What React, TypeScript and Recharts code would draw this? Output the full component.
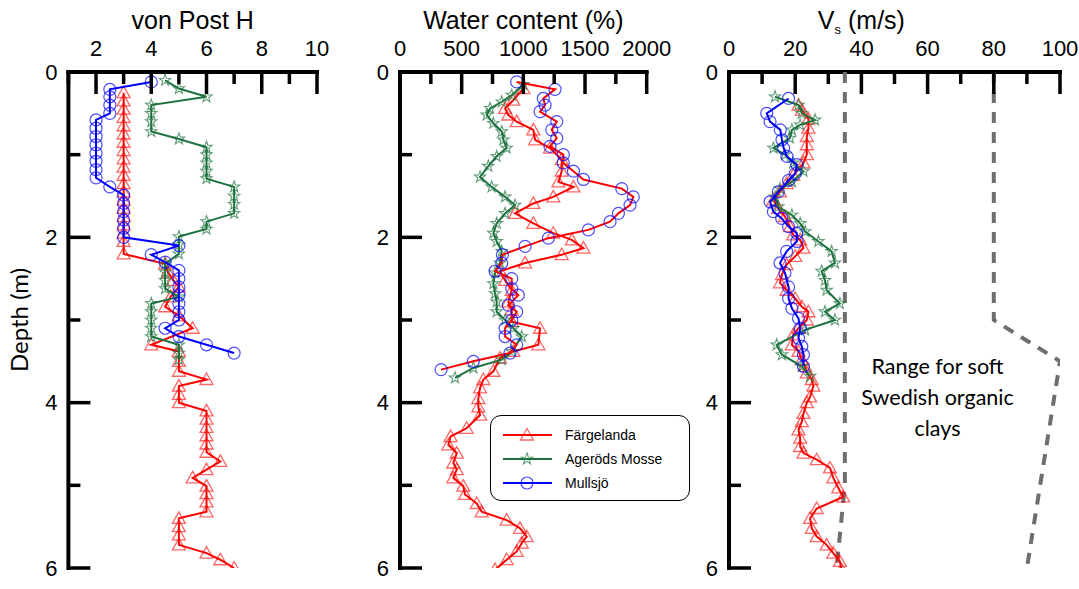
import React from "react";
import { ScatterChart, Scatter, XAxis, YAxis, Legend, ReferenceDot } from "recharts";

const RED = "#ff0000";
const GREEN = "#1e7340";
const BLUE = "#0000ff";
const GREY = "#6e6e6e";
const NARROW = "'Liberation Sans Narrow', 'Arial Narrow', 'Liberation Sans', Arial, sans-serif";
const CALIBRI = "Lato, 'Open Sans', sans-serif";

const siteNames = ["Färgelanda", "Ageröds Mosse", "Mullsjö"];

const depthTicks = [0, 1, 2, 3, 4, 5, 6];
const vonPostTicks = [1, 2, 3, 4, 5, 6, 7, 8, 9, 10];
const waterTicks = [0, 250, 500, 750, 1000, 1250, 1500, 1750, 2000];
const vsTicks = [0, 10, 20, 30, 40, 50, 60, 70, 80, 90, 100];

// von Post H
const fargVonPostDepth = [0.25, 0.35, 0.45, 0.55, 0.65, 0.75, 0.85, 0.95, 1.05, 1.15, 1.25, 1.35, 1.45, 1.55, 1.65, 1.75, 1.85, 1.95, 2.05, 2.2, 2.32, 2.42, 2.52, 2.6, 2.72, 2.84, 2.95, 3.1, 3.3, 3.38, 3.5, 3.62, 3.72, 3.8, 3.9, 4.0, 4.1, 4.2, 4.3, 4.4, 4.5, 4.6, 4.71, 4.81, 4.91, 5.01, 5.1, 5.2, 5.32, 5.4, 5.5, 5.6, 5.72, 5.82, 5.9, 6.0];
const fargVonPost = [3, 3, 3, 3, 3, 3, 3, 3, 3, 3, 3, 3, 3, 3, 3, 3, 3, 3, 3, 3, 4.5, 4.6, 4.8, 5, 4.7, 4.5, 5, 5.5, 4, 5, 5, 5, 6, 5, 5, 5, 6, 6, 6, 6, 6, 6, 6.5, 6, 5.5, 6, 6, 6, 6, 5, 5, 5, 5, 6, 6.5, 7];
const agerVonPostDepth = [0.1, 0.2, 0.3, 0.4, 0.5, 0.6, 0.72, 0.81, 0.91, 1.0, 1.1, 1.2, 1.29, 1.39, 1.5, 1.6, 1.71, 1.81, 1.9, 1.99, 2.09, 2.2, 2.32, 2.42, 2.52, 2.62, 2.72, 2.8, 2.9, 3.0, 3.1, 3.2, 3.3, 3.4, 3.48];
const agerVonPost = [4.5, 5, 6, 4, 4, 4, 4, 5, 6, 6, 6, 6, 6, 7, 7, 7, 7, 6, 6, 5, 5, 5, 4.5, 4.5, 4.5, 4.5, 5, 4, 4, 4, 4, 4, 5, 5, 5];
const mullVonPostDepth = [0.12, 0.21, 0.3, 0.4, 0.5, 0.58, 0.68, 0.78, 0.88, 0.98, 1.08, 1.18, 1.28, 1.39, 1.49, 1.59, 1.69, 1.79, 1.89, 2.0, 2.1, 2.21, 2.3, 2.4, 2.5, 2.6, 2.7, 2.8, 2.9, 3.0, 3.1, 3.2, 3.3, 3.4];
const mullVonPost = [4, 2.5, 2.5, 2.5, 2.5, 2, 2, 2, 2, 2, 2, 2, 2, 2.5, 3, 3, 3, 3, 3, 3, 5, 4, 4.5, 5, 5, 5, 5, 5, 5, 5, 4.5, 5, 6, 7];

// water content (%)
const fargWaterDepth = [0.2, 0.34, 0.44, 0.52, 0.6, 0.7, 0.82, 0.92, 1.06, 1.2, 1.33, 1.39, 1.51, 1.59, 1.71, 1.83, 1.95, 2.03, 2.13, 2.21, 2.31, 2.41, 2.52, 2.64, 2.78, 2.88, 3.02, 3.1, 3.3, 3.38, 3.46, 3.62, 3.72, 3.82, 3.95, 4.05, 4.15, 4.31, 4.41, 4.51, 4.61, 4.73, 4.81, 4.91, 5.01, 5.11, 5.22, 5.32, 5.42, 5.52, 5.62, 5.7, 5.8, 5.9, 6.02];
const fargWater = [1000, 919, 852, 878, 946, 1081, 1095, 1216, 1311, 1311, 1284, 1406, 1243, 1081, 933, 1081, 1243, 1393, 1487, 1311, 1014, 811, 852, 906, 878, 906, 906, 1135, 1122, 919, 811, 757, 676, 649, 635, 635, 649, 540, 410, 392, 460, 432, 460, 432, 513, 527, 622, 662, 865, 973, 1027, 987, 946, 865, 771];
const agerWaterDepth = [0.15, 0.28, 0.36, 0.44, 0.52, 0.62, 0.72, 0.82, 0.92, 1.02, 1.14, 1.27, 1.39, 1.51, 1.61, 1.71, 1.83, 1.95, 2.05, 2.17, 2.31, 2.43, 2.56, 2.68, 2.78, 2.9, 3.0, 3.1, 3.2, 3.38, 3.48, 3.58, 3.7];
const agerWater = [1000, 906, 825, 730, 703, 757, 825, 838, 865, 784, 716, 649, 743, 852, 933, 852, 784, 757, 784, 825, 811, 771, 757, 771, 784, 784, 852, 919, 987, 906, 825, 595, 446];
const mullWaterDepth = [0.12, 0.21, 0.32, 0.4, 0.48, 0.6, 0.7, 0.8, 0.9, 1.0, 1.1, 1.2, 1.3, 1.41, 1.51, 1.61, 1.71, 1.81, 1.91, 2.01, 2.11, 2.21, 2.31, 2.41, 2.5, 2.62, 2.7, 2.82, 2.9, 3.0, 3.1, 3.2, 3.3, 3.4, 3.5, 3.6];
const mullWater = [946, 1257, 1162, 1176, 1135, 1271, 1230, 1271, 1216, 1324, 1324, 1406, 1487, 1798, 1892, 1865, 1771, 1703, 1527, 1203, 1014, 830, 825, 771, 906, 906, 959, 878, 946, 906, 852, 852, 946, 892, 595, 333];

// shear wave velocity (m/s)
const fargVsDepth = [0.4, 0.46, 0.57, 0.68, 0.78, 0.88, 1.0, 1.1, 1.25, 1.35, 1.45, 1.55, 1.65, 1.75, 1.87, 1.97, 2.03, 2.13, 2.23, 2.33, 2.45, 2.55, 2.64, 2.74, 2.84, 2.9, 3.0, 3.1, 3.18, 3.3, 3.38, 3.48, 3.56, 3.64, 3.72, 3.8, 3.93, 4.0, 4.13, 4.23, 4.33, 4.43, 4.53, 4.61, 4.69, 4.79, 4.91, 5.03, 5.14, 5.28, 5.4, 5.52, 5.62, 5.72, 5.82, 5.92, 6.02, 6.2];
const fargVs = [21, 22, 24, 24, 23.5, 23.5, 23.5, 22.5, 19.4, 17.4, 15.4, 13.4, 14.9, 16.9, 18.4, 19.4, 21.5, 22.5, 20, 17.4, 16, 15.4, 17.4, 20, 22, 24, 23.5, 21, 19.4, 19, 21, 22, 23, 23.5, 25, 25.5, 24.5, 23.5, 22.5, 22, 21, 21.5, 21.5, 22.5, 26.5, 30.5, 31.5, 33, 34.5, 26.5, 24.5, 25, 26.5, 29.5, 31.5, 33.5, 34, 13.9];
const agerVsDepth = [0.3, 0.4, 0.5, 0.58, 0.64, 0.7, 0.8, 0.92, 1.0, 1.1, 1.2, 1.33, 1.41, 1.51, 1.63, 1.73, 1.83, 1.93, 2.05, 2.17, 2.31, 2.41, 2.52, 2.64, 2.8, 2.9, 3.0, 3.12, 3.3, 3.42, 3.56, 3.68];
const agerVs = [13.9, 21, 22, 26, 21.5, 19, 18.4, 13.4, 16.9, 19.4, 22.5, 19, 15.4, 13.9, 14.9, 19, 21.5, 23, 27, 31, 32, 28, 29, 29.5, 33.5, 29, 32, 23, 14.4, 16, 22, 24.5];
const mullVsDepth = [0.32, 0.5, 0.6, 0.7, 0.82, 0.92, 1.02, 1.12, 1.23, 1.31, 1.45, 1.57, 1.69, 1.77, 1.87, 1.95, 2.05, 2.17, 2.31, 2.43, 2.6, 2.74, 2.86, 2.98, 3.1, 3.22, 3.32, 3.42, 3.56];
const mullVs = [18, 11.4, 12.4, 15.5, 16, 16.5, 17.5, 20.5, 20, 18, 14.9, 12.4, 13.4, 15.9, 18, 20.5, 20.5, 17.4, 15.4, 16.9, 18, 18, 19, 21, 21.5, 21, 22, 22.5, 22.5];

// range for soft Swedish organic clays
const rangeLowDepth = [0, 5.0, 6.0];
const rangeLowVs = [35, 35, 32.5];
const rangeHighDepth = [0, 3.0, 3.5, 6.0];
const rangeHighVs = [80, 80, 100, 90];
const rangeText = ["Range for soft", "Swedish organic", "clays"];

const pts = (depth: number[], val: number[]) => depth.map((d, i) => ({ x: val[i], y: d }));

type Kind = "triangle" | "star" | "circle" | "none";
type Series = { name: string; data: { x: number; y: number }[]; line: string; marker: string; kind: Kind; dash?: string; width?: number };

function Marker({ kind, cx, cy, color }: { kind: Kind; cx: number; cy: number; color: string }) {
  if (kind === "triangle")
    return <path d={`M${cx} ${cy - 6.5}L${cx + 6.5} ${cy + 5}L${cx - 6.5} ${cy + 5}Z`} fill="none" stroke={color} strokeOpacity={0.6} strokeWidth={1.3} />;
  if (kind === "circle")
    return <circle cx={cx} cy={cy} r={6} fill="none" stroke={color} strokeOpacity={0.7} strokeWidth={1.2} />;
  if (kind === "star") {
    const p = [];
    for (let k = 0; k < 10; k++) {
      const r = k % 2 ? 2.4 : 6;
      const a = ((-90 + k * 36) * Math.PI) / 180;
      p.push(`${cx + r * Math.cos(a)},${cy + r * Math.sin(a)}`);
    }
    return <polygon points={p.join(" ")} fill="none" stroke={color} strokeOpacity={0.7} strokeWidth={1.1} />;
  }
  return <g />;
}

const makeXTick = (major: number) => (props: any) => {
  const { x, y, payload } = props;
  const isMajor = Math.abs(payload.value % major) < 1e-9;
  return (
    <g>
      <line x1={x} y1={y} x2={x} y2={y + (isMajor ? 22 : 12)} stroke="#000" strokeWidth={3.5} />
      {isMajor && (
        <text x={x} y={y - 16} textAnchor="middle" fontFamily={NARROW} fontSize={22} fill="#000">
          {payload.value}
        </text>
      )}
    </g>
  );
};

const YTick = (props: any) => {
  const { x, y, payload } = props;
  const isMajor = payload.value % 2 === 0;
  return (
    <g>
      <line x1={x} y1={y} x2={x + (isMajor ? 22 : 12)} y2={y} stroke="#000" strokeWidth={3.5} />
      {isMajor && (
        <text x={x - 11} y={y} dy="0.35em" textAnchor="end" fontFamily={NARROW} fontSize={22} fill="#000">
          {payload.value}
        </text>
      )}
    </g>
  );
};

const LegendBox = () => (
  <div style={{ width: 200, height: 86, border: "1.5px solid #000", borderRadius: 11, boxSizing: "border-box", background: "#fff", paddingTop: 7 }}>
    {siteNames.map((n, i) => {
      const kinds: Kind[] = ["triangle", "star", "circle"];
      const cols = [RED, GREEN, BLUE];
      return (
        <div key={n} style={{ display: "flex", alignItems: "center", height: 24 }}>
          <svg width={74} height={20}>
            <line x1={12} y1={10} x2={61} y2={10} stroke={cols[i]} strokeWidth={2} />
            <Marker kind={kinds[i]} cx={36} cy={10} color={cols[i]} />
          </svg>
          <span style={{ fontFamily: NARROW, fontSize: 14, color: "#000" }}>{n}</span>
        </div>
      );
    })}
  </div>
);

type PanelProps = {
  left: number;
  yWidth: number;
  plotWidth: number;
  rightPad: number;
  domain: [number, number];
  ticks: number[];
  major: number;
  title: React.ReactNode;
  titleAt: number;
  series: Series[];
  depthTitle?: boolean;
  legend?: boolean;
  annotation?: boolean;
};

function Panel(p: PanelProps) {
  const width = p.yWidth + p.plotWidth + p.rightPad;
  const titleContent = (props: any) => {
    const vb = props.viewBox;
    const x = vb.x + ((p.titleAt - p.domain[0]) / (p.domain[1] - p.domain[0])) * vb.width;
    return (
      <text x={x} y={29} textAnchor="middle" fontFamily={NARROW} fontSize={25} fill="#000">
        {p.title}
      </text>
    );
  };
  const depthContent = (props: any) => {
    const vb = props.viewBox;
    const cx = 20;
    const cy = vb.y + vb.height / 2;
    return (
      <text x={cx} y={cy} transform={`rotate(-90 ${cx} ${cy})`} textAnchor="middle" dy="0.35em" fontFamily={CALIBRI} fontSize={24} fill="#000">
        Depth (m)
      </text>
    );
  };
  return (
    <div style={{ position: "absolute", left: p.left, top: 0 }}>
      <ScatterChart width={width} height={589} margin={{ top: 10, right: p.rightPad, bottom: 21, left: 0 }}>
        <XAxis
          type="number"
          dataKey="x"
          orientation="top"
          domain={p.domain}
          ticks={p.ticks}
          interval={0}
          allowDataOverflow
          height={62}
          tickSize={0}
          tickMargin={0}
          tickLine={false}
          axisLine={{ stroke: "#000", strokeWidth: 4, strokeLinecap: "square" }}
          tick={makeXTick(p.major)}
          label={{ content: titleContent }}
        />
        <YAxis
          type="number"
          dataKey="y"
          domain={[0, 6]}
          reversed
          ticks={depthTicks}
          interval={0}
          allowDataOverflow
          width={p.yWidth}
          tickSize={0}
          tickMargin={0}
          tickLine={false}
          axisLine={{ stroke: "#000", strokeWidth: 4, strokeLinecap: "square" }}
          tick={YTick}
          label={p.depthTitle ? { content: depthContent } : undefined}
        />
        {p.series.map((s) => (
          <Scatter
            key={s.name + s.kind + s.line}
            name={s.name}
            data={s.data}
            isAnimationActive={false}
            line={{ stroke: s.line, strokeWidth: s.width ?? 2, strokeDasharray: s.dash }}
            shape={(sp: any) => <Marker kind={s.kind} cx={sp.cx} cy={sp.cy} color={s.marker} />}
          />
        ))}
        {p.annotation && (
          <ReferenceDot
            x={63}
            y={3.94}
            r={0}
            fill="none"
            stroke="none"
            label={{
              content: (lp: any) => {
                const vb = lp.viewBox;
                const cx = vb.x + (vb.width || 0) / 2;
                const cy = vb.y + (vb.height || 0) / 2;
                return (
                  <text x={cx} y={cy} textAnchor="middle" dy="0.35em" fontFamily={CALIBRI} fontSize={21.5} fill="#000">
                    {rangeText.map((t, i) => (
                      <tspan key={t} x={cx} dy={i === 0 ? -31 + 7 : 31}>
                        {t}
                      </tspan>
                    ))}
                  </text>
                );
              },
            }}
          />
        )}
        {p.legend && (
          <Legend
            layout="vertical"
            align="center"
            verticalAlign="middle"
            wrapperStyle={{ left: 155, top: 415, width: 200 }}
            content={() => <LegendBox />}
          />
        )}
      </ScatterChart>
    </div>
  );
}

export default function App() {
  const vonPostSeries: Series[] = [
    { name: siteNames[0], data: pts(fargVonPostDepth, fargVonPost), line: RED, marker: RED, kind: "triangle" },
    { name: siteNames[1], data: pts(agerVonPostDepth, agerVonPost), line: GREEN, marker: GREEN, kind: "star" },
    { name: siteNames[2], data: pts(mullVonPostDepth, mullVonPost), line: BLUE, marker: BLUE, kind: "circle" },
  ];
  const waterSeries: Series[] = [
    { name: siteNames[0], data: pts(fargWaterDepth, fargWater), line: RED, marker: RED, kind: "triangle" },
    { name: siteNames[1], data: pts(agerWaterDepth, agerWater), line: GREEN, marker: GREEN, kind: "star" },
    { name: siteNames[2], data: pts(mullWaterDepth, mullWater), line: RED, marker: BLUE, kind: "circle" },
  ];
  const vsSeries: Series[] = [
    { name: "range-low", data: pts(rangeLowDepth, rangeLowVs), line: GREY, marker: GREY, kind: "none", dash: "11 9", width: 4 },
    { name: "range-high", data: pts(rangeHighDepth, rangeHighVs), line: GREY, marker: GREY, kind: "none", dash: "11 9", width: 4 },
    { name: siteNames[0], data: pts(fargVsDepth, fargVs), line: RED, marker: RED, kind: "triangle" },
    { name: siteNames[1], data: pts(agerVsDepth, agerVs), line: GREEN, marker: GREEN, kind: "star" },
    { name: siteNames[2], data: pts(mullVsDepth, mullVs), line: BLUE, marker: BLUE, kind: "circle" },
  ];

  return (
    <div style={{ position: "absolute", left: 0, top: 0, width: 1079, height: 589, background: "#fff", overflow: "hidden" }}>
      <Panel left={0} yWidth={68.4} plotWidth={248.6} rightPad={12} domain={[1, 10]} ticks={vonPostTicks} major={2} title="von Post H" titleAt={5.5} series={vonPostSeries} depthTitle />
      <Panel left={335} yWidth={65} plotWidth={246.7} rightPad={50} domain={[0, 2000]} ticks={waterTicks} major={500} title="Water content (%)" titleAt={1000} series={waterSeries} legend />
      <Panel
        left={665}
        yWidth={64}
        plotWidth={331}
        rightPad={19}
        domain={[0, 100]}
        ticks={vsTicks}
        major={20}
        title={
          <>
            <tspan>V</tspan>
            <tspan fontSize={13} dy={5}>s</tspan>
            <tspan dy={-5}> (m/s)</tspan>
          </>
        }
        titleAt={40}
        series={vsSeries}
        annotation
      />
    </div>
  );
}
